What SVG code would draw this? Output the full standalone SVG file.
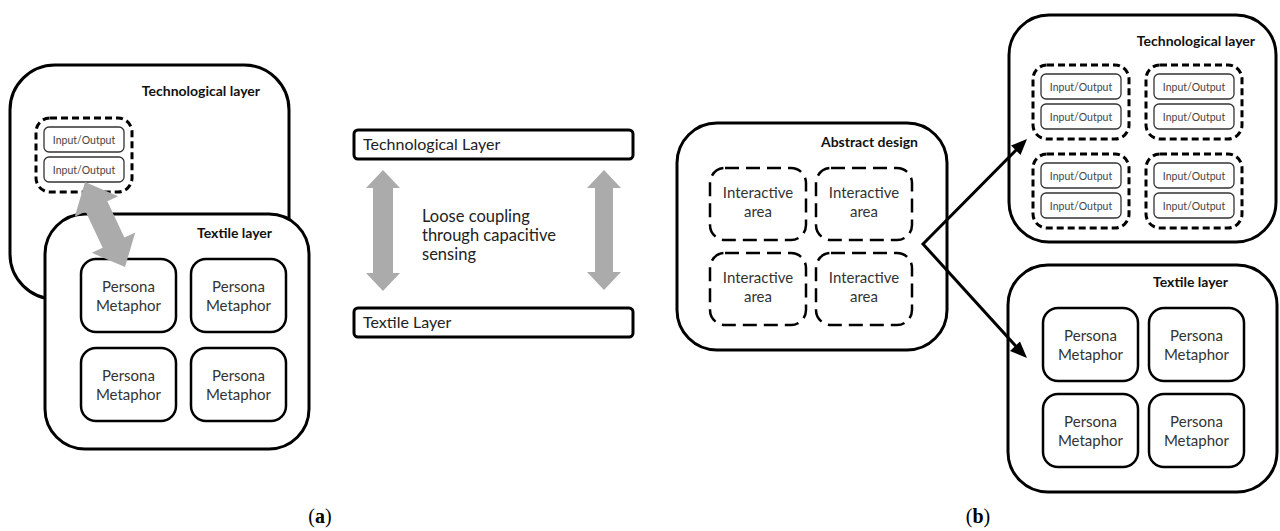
<svg xmlns="http://www.w3.org/2000/svg" width="1280" height="531" viewBox="0 0 1280 531">
<defs>
<style>
.big{fill:#fff;stroke:#000;stroke-width:3}
.dash{fill:none;stroke:#000;stroke-width:3;stroke-dasharray:7 4}
.ldash{fill:none;stroke:#000;stroke-width:2.5;stroke-dasharray:14 7}
.io{fill:#fff;stroke:#333;stroke-width:1.3}
.per{fill:#fff;stroke:#000;stroke-width:2.5}
.lay{fill:#fff;stroke:#000;stroke-width:3}
.t{font-family:Lato,"Liberation Sans",Arial,sans-serif;fill:#222}
.b{font-family:Lato,"Liberation Sans",Arial,sans-serif;font-weight:bold;font-size:14px;fill:#111;text-anchor:end}
.iot{font-family:Lato,"Liberation Sans",Arial,sans-serif;font-size:10.5px;fill:#444;text-anchor:middle}
.pt{font-family:Lato,"Liberation Sans",Arial,sans-serif;font-size:15px;fill:#333;text-anchor:middle}
.gray{fill:#ababab}
.cap{font-family:"Liberation Serif","Times New Roman",serif;font-size:20px;fill:#000;text-anchor:middle}
</style>
<g id="ioPair">
<rect class="dash" x="0" y="0" width="96" height="74" rx="14"/>
<rect class="io" x="8" y="9" width="80" height="25" rx="5"/>
<text class="iot" x="48" y="25.5">Input/Output</text>
<rect class="io" x="8" y="39" width="80" height="25" rx="5"/>
<text class="iot" x="48" y="55.5">Input/Output</text>
</g>
<g id="persona">
<rect class="per" x="0" y="0" width="95" height="73" rx="15"/>
<text class="pt" x="47.5" y="33">Persona</text>
<text class="pt" x="47.5" y="52">Metaphor</text>
</g>
<g id="inter">
<rect class="ldash" x="0" y="0" width="96" height="72" rx="15"/>
<text class="pt" x="48" y="30">Interactive</text>
<text class="pt" x="48" y="49">area</text>
</g>
</defs>

<!-- (a) -->
<g id="a-tech">
<rect class="big" x="10" y="65" width="279" height="234" rx="45"/>
<text class="b" x="260" y="96">Technological layer</text>
<use href="#ioPair" x="36" y="118"/>
</g>
<g id="a-textile">
<rect class="big" x="45" y="214" width="264" height="235" rx="40"/>
<text class="b" x="272" y="238">Textile layer</text>
<use href="#persona" x="81" y="259"/>
<use href="#persona" x="191" y="259"/>
<use href="#persona" x="81" y="348"/>
<use href="#persona" x="191" y="348"/>
</g>

<!-- middle -->
<g id="m-tech">
<rect class="lay" x="354" y="130" width="279" height="29" rx="4"/>
<text class="t" x="363" y="150" font-size="16">Technological Layer</text>
</g>
<g id="m-textile">
<rect class="lay" x="354" y="308" width="279" height="29" rx="4"/>
<text class="t" x="363" y="328" font-size="16">Textile Layer</text>
</g>
<g id="m-label">
<text class="t" x="422" y="222" font-size="16.5">Loose coupling</text>
<text class="t" x="422" y="241" font-size="16.5">through capacitive</text>
<text class="t" x="422" y="260" font-size="16.5">sensing</text>
</g>

<!-- (b) -->
<g id="b-abstract">
<rect class="big" x="677" y="123" width="270" height="227" rx="40"/>
<text class="b" x="918" y="147">Abstract design</text>
<use href="#inter" x="710" y="168"/>
<use href="#inter" x="816" y="168"/>
<use href="#inter" x="710" y="253"/>
<use href="#inter" x="816" y="253"/>
</g>
<g id="b-tech">
<rect class="big" x="1009" y="15" width="267" height="227" rx="40"/>
<text class="b" x="1255" y="46">Technological layer</text>
<use href="#ioPair" x="1033" y="65"/>
<use href="#ioPair" x="1146" y="65"/>
<use href="#ioPair" x="1033" y="154"/>
<use href="#ioPair" x="1146" y="154"/>
</g>
<g id="b-textile">
<rect class="big" x="1008" y="265" width="269" height="227" rx="40"/>
<text class="b" x="1228" y="287">Textile layer</text>
<use href="#persona" x="1043" y="308"/>
<use href="#persona" x="1149" y="308"/>
<use href="#persona" x="1043" y="394"/>
<use href="#persona" x="1149" y="394"/>
</g>

<!-- connectors -->
<g id="connectors">
<polygon class="gray" transform="translate(85,182) rotate(64.8)" points="0,0 27,-24 27,-12 67,-12 67,-24 94,0 67,24 67,12 27,12 27,24"/>
<polygon class="gray" points="383,170 400,188 393,188 393,273 400,273 383,291 366,273 373,273 373,188 366,188"/>
<polygon class="gray" points="604,170 621,188 613,188 613,272 621,272 604,290 587,272 595,272 595,188 587,188"/>
<polyline points="1024,142 923,244 1024,355" fill="none" stroke="#000" stroke-width="3"/>
<polygon points="1027,139 1020.5,155 1011,145.5" fill="#000"/>
<polygon points="1027,358 1010,351 1020,341.5" fill="#000"/>
</g>

<text class="cap" x="320" y="523">(<tspan font-weight="bold">a</tspan>)</text>
<text class="cap" x="978" y="523">(<tspan font-weight="bold">b</tspan>)</text>
</svg>
